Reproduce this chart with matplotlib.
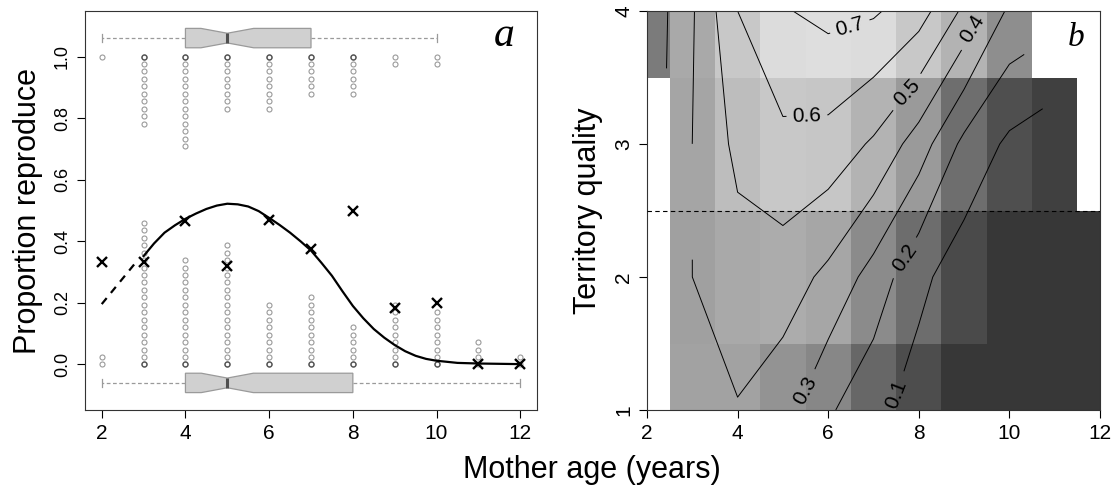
import numpy as np
import matplotlib
matplotlib.use('Agg')
import matplotlib.pyplot as plt

plt.rcParams['font.family'] = ['Liberation Sans', 'DejaVu Sans']

# ---- panel a: mothers of each age that bred (1) or not (0)
ages = [2, 3, 4, 5, 6, 7, 8, 9, 10, 11, 12]
n_failed = [2, 20, 15, 17, 9, 10, 6, 9, 8, 4, 2]
n_bred = [1, 10, 13, 8, 8, 6, 6, 2, 2, 0, 0]

# fitted curve, dashed part is the extrapolation
fit_age = [3.0, 3.25, 3.5, 3.75, 4.0, 4.25, 4.5, 4.75, 5.0, 5.25, 5.5, 5.75,
           6.0, 6.25, 6.5, 6.75, 7.0, 7.25, 7.5, 7.75, 8.0, 8.25, 8.5, 8.75,
           9.0, 9.25, 9.5, 9.75, 10.0, 10.5, 11.0, 11.5, 12.0]
fit_prob = [0.352, 0.393, 0.428, 0.452, 0.473, 0.490, 0.505, 0.516, 0.522,
            0.520, 0.513, 0.498, 0.476, 0.453, 0.428, 0.400, 0.370, 0.330,
            0.288, 0.238, 0.190, 0.150, 0.115, 0.087, 0.063, 0.043, 0.028,
            0.018, 0.012, 0.005, 0.003, 0.002, 0.001]
extrap_age = [2.0, 2.8]
extrap_prob = [0.196, 0.329]

# ---- panel b: fitted surface on the age x territory quality grid
grid_age = [2, 3, 4, 5, 6, 7, 8, 9, 10, 11, 12]
grid_quality = [1, 2, 3, 4]
nan = np.nan
fit_surface = [
    [nan, 0.380, 0.394, 0.337, 0.214, 0.130, 0.055, 0.020, 0.005, 0.003, 0.001],
    [nan, 0.39997, 0.456, 0.452, 0.376, 0.261, 0.125, 0.044, 0.020, 0.010, 0.005],
    [nan, 0.4002, 0.525, 0.576, 0.564, 0.486, 0.352, 0.174, 0.080, 0.035, nan],
    [0.224, 0.390, 0.600, 0.692, 0.728, 0.713, 0.645, 0.480, 0.280, nan, nan],
]
cell_grey = [
    [nan, 162, 162, 147, 135, 103, 77, 55, 55, 55, 55],
    [nan, 160, 169, 172, 166, 139, 109, 74, 55, 55, 55],
    [nan, 165, 189, 200, 198, 179, 154, 110, 79, 64, nan],
    [123, 169, 200, 220, 222, 220, 200, 179, 142, nan, nan],
]
levels = [0.1, 0.2, 0.3, 0.4, 0.5, 0.6, 0.7]
label_spots = [(6.48, 3.88), (5.53, 3.21), (7.74, 3.39), (9.24, 3.85),
               (5.55, 1.13), (7.74, 2.13), (7.43, 1.13)]

STEP = 0.0242  # vertical spacing of stacked points

fig = plt.figure(figsize=(11.15, 4.87), dpi=100)
axa = fig.add_axes([85 / 1115, 77 / 487, 452 / 1115, 399 / 487])
axb = fig.add_axes([647 / 1115, 77 / 487, 453 / 1115, 399 / 487])

# stacked raw observations
for age, n0, n1 in zip(ages, n_failed, n_bred):
    y0 = np.arange(n0) * STEP
    y1 = 1 - np.arange(n1) * STEP
    for ys in (y0, y1):
        if len(ys) == 0:
            continue
        axa.plot(np.full(len(ys), age), ys, 'o', mfc='none', mec='#9a9a9a',
                 ms=3.6, mew=0.8, zorder=2)
        if len(ys) >= 5:
            axa.plot([age], [ys[0]], 'o', mfc='none', mec='#555555',
                     ms=3.6, mew=1.0, zorder=2)

# boxplots of age for breeders (top) and non-breeders (bottom)
bred_ages = np.repeat(ages, n_bred)
failed_ages = np.repeat(ages, n_failed)
grey_line = dict(color='#9a9a9a', lw=0.9)
axa.boxplot([bred_ages, failed_ages], positions=[1.06, -0.06], vert=False,
            widths=0.063, notch=True, showfliers=False, patch_artist=True,
            manage_ticks=False, capwidths=0.028,
            boxprops=dict(facecolor='#d0d0d0', edgecolor='#9a9a9a', lw=0.9),
            whiskerprops=dict(color='#9a9a9a', lw=0.9, ls=(0, (3, 2))),
            capprops=grey_line,
            medianprops=dict(color='#505050', lw=2.2))

props = np.array(n_bred) / (np.array(n_bred) + np.array(n_failed))
axa.plot(fit_age, fit_prob, color='k', lw=1.6, zorder=3)
axa.plot(extrap_age, extrap_prob, color='k', lw=1.6, dashes=(3.5, 3), zorder=3)
axa.plot(ages, props, 'x', color='k', ms=7, mew=1.7, zorder=4)

axa.set_xlim(1.6, 12.4)
axa.set_ylim(-0.148, 1.148)
axa.set_xticks([2, 4, 6, 8, 10, 12])
axa.set_yticks([0.0, 0.2, 0.4, 0.6, 0.8, 1.0])
axa.set_yticklabels(['0.0', '0.2', '0.4', '0.6', '0.8', '1.0'],
                    rotation=90, va='center')
axa.tick_params(axis='x', labelsize=15, length=6, width=0.8, pad=4)
axa.tick_params(axis='y', labelsize=13, length=6, width=0.8, pad=4)
axa.set_ylabel('Proportion reproduce', fontsize=22, labelpad=8)
axa.text(11.62, 1.034, 'a', fontsize=30, fontstyle='italic',
         family='Liberation Serif', ha='center', va='baseline')

# ---- panel b
z = np.ma.masked_invalid(np.array(fit_surface))
shade = np.ma.masked_invalid(np.array(cell_grey))
xe = np.append(np.array(grid_age) - 0.5, grid_age[-1] + 0.5)
ye = np.append(np.array(grid_quality) - 0.5, grid_quality[-1] + 0.5)
axb.pcolormesh(xe, ye, shade, cmap='gray', vmin=0, vmax=255, zorder=1)
cs = axb.contour(grid_age, grid_quality, z, levels=levels, colors='k',
                 linewidths=0.7, zorder=2)
axb.clabel(cs, fmt='%.1f', fontsize=15, inline=True, inline_spacing=4,
           manual=label_spots)
axb.axhline(2.5, color='k', lw=0.8, ls=(0, (4, 3)), zorder=3)

axb.set_xlim(2, 12)
axb.set_ylim(1, 4)
axb.set_xticks([2, 4, 6, 8, 10, 12])
axb.set_yticks([1, 2, 3, 4])
axb.set_yticklabels(['1', '2', '3', '4'], rotation=90, va='center')
axb.tick_params(labelsize=15, length=6, width=0.8, pad=4)
axb.set_ylabel('Territory quality', fontsize=22, labelpad=8)
axb.text(11.47, 3.74, 'b', fontsize=24, fontstyle='italic',
         family='Liberation Serif', ha='center', va='baseline')

for ax in (axa, axb):
    for s in ax.spines.values():
        s.set_linewidth(0.8)
        s.set_color('#333333')

fig.text(592 / 1115, 0.035, 'Mother age (years)', fontsize=22,
         ha='center', va='center')

fig.savefig('out.png', dpi=100)
